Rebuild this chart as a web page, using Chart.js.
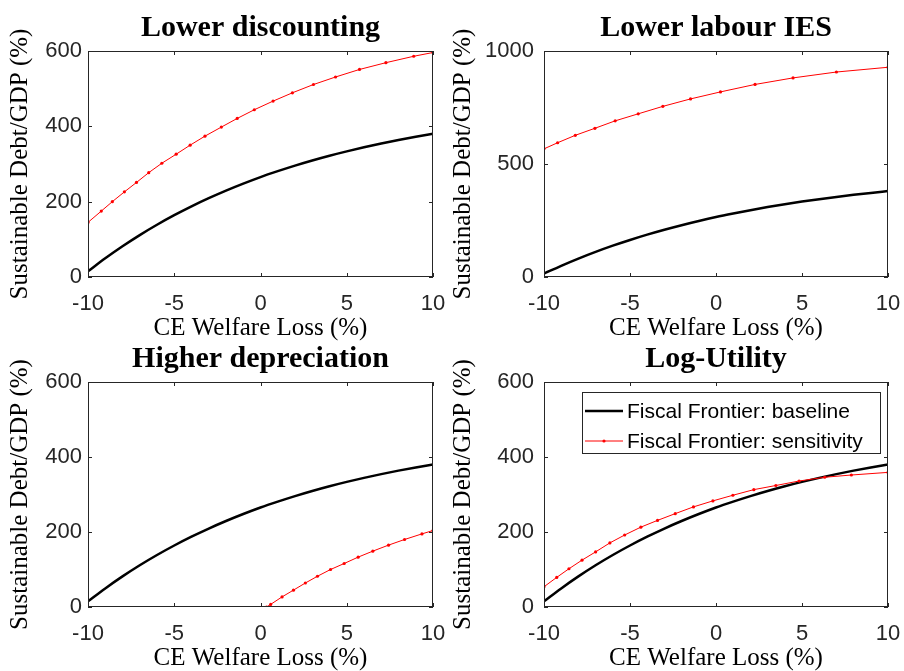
<!DOCTYPE html>
<html>
<head>
<meta charset="utf-8">
<script src="https://cdn.jsdelivr.net/npm/chart.js@4.4.1/dist/chart.umd.min.js"></script>
<style>
  html, body { margin: 0; padding: 0; background: #fff; }
  #wrap { position: relative; width: 904px; height: 671px; overflow: hidden; }
  canvas { position: absolute; }
</style>
</head>
<body>
<div id="wrap">
  <canvas id="c1" width="452" height="341" style="left:0;top:0"></canvas>
  <canvas id="c2" width="464" height="341" style="left:440px;top:0"></canvas>
  <canvas id="c3" width="452" height="341" style="left:0;top:330px"></canvas>
  <canvas id="c4" width="464" height="341" style="left:440px;top:330px"></canvas>
</div>
<script>
// x axis: CE welfare loss (%)
const welfare = [-10, -9, -8, -7, -6, -5, -4, -3, -2, -1, 0, 1, 2, 3, 4, 5, 6, 7, 8, 9, 10];
const baseline = [15, 49.6, 81.6, 111.3, 138.7, 164, 187.5, 209.2, 229.3, 247.9, 265.3, 281, 295.8, 309.4, 322, 333.6, 344.4, 354.4, 363.7, 372.2, 380.1];

// sensitivity runs (red, with markers)
const discountX = [-10, -9.23, -8.59, -7.89, -7.19, -6.48, -5.72, -4.89, -4.08, -3.22, -2.27, -1.35, -0.36, 0.73, 1.85, 3.07, 4.35, 5.74, 7.27, 8.88, 10];
const discountY = [145, 175, 200, 226, 251, 277, 302, 326, 350, 374, 398, 421, 444, 467, 489, 511, 531, 551, 569, 586, 596];

const iesX = [-10, -9.21, -8.18, -7.04, -5.86, -4.52, -3.09, -1.48, 0.26, 2.27, 4.48, 7.0, 10];
const iesY = [567, 594, 627, 658, 691, 722, 755, 788, 819, 852, 881, 907, 928];

const deprX = [0.35, 0.59, 1.25, 1.91, 2.60, 3.30, 4.06, 4.85, 5.66, 6.51, 7.42, 8.35, 9.36, 10];
const deprY = [0, 7, 27, 45, 64, 82, 100, 116, 133, 149, 165, 180, 195, 204];

const logX = [-10, -9.26, -8.55, -7.79, -7.0, -6.17, -5.31, -4.37, -3.40, -2.37, -1.31, -0.18, 0.98, 2.20, 3.48, 4.83, 6.32, 7.87, 10];
const logY = [54, 79, 102, 125, 147, 171, 192, 213, 231, 249, 267, 283, 298, 313, 324, 336, 346, 352, 359];

const xTicks = [-10, -5, 0, 5, 10];
const yTicks600 = [0, 200, 400, 600];
const yTicks1000 = [0, 500, 1000];

const seriesNames = ['Fiscal Frontier: baseline', 'Fiscal Frontier: sensitivity'];

const axisColor = '#262626';

// box round the axes, inward ticks, panel title and (optionally) legend
const frame = {
  id: 'frame',
  afterDatasetsDraw(chart, args, opts) {
    const {ctx, chartArea: a, scales} = chart;
    ctx.save();
    ctx.strokeStyle = axisColor;
    ctx.lineWidth = 1;
    ctx.strokeRect(a.left + 0.5, a.top + 0.5, a.right - a.left - 1, a.bottom - a.top - 1);
    ctx.beginPath();
    scales.x.ticks.forEach(t => {
      const px = Math.round(scales.x.getPixelForValue(t.value)) + 0.5;
      ctx.moveTo(px, a.bottom); ctx.lineTo(px, a.bottom - 4);
      ctx.moveTo(px, a.top); ctx.lineTo(px, a.top + 4);
    });
    scales.y.ticks.forEach(t => {
      const py = Math.round(scales.y.getPixelForValue(t.value)) + 0.5;
      ctx.moveTo(a.left, py); ctx.lineTo(a.left + 4, py);
      ctx.moveTo(a.right, py); ctx.lineTo(a.right - 4, py);
    });
    ctx.stroke();
    ctx.restore();
  },
  afterDraw(chart, args, opts) {
    const {ctx, chartArea: a} = chart;
    ctx.save();
    ctx.fillStyle = '#000';
    ctx.font = 'bold 30px "Liberation Serif"';
    ctx.textAlign = 'center';
    ctx.textBaseline = 'alphabetic';
    ctx.fillText(opts.title, (a.left + a.right) / 2, a.top - 15);

    if (opts.legend) {
      ctx.font = '21px "Liberation Sans"';
      const ds = chart.data.datasets;
      const w = Math.max(...ds.map(d => ctx.measureText(d.label).width));
      const boxW = Math.round(45 + w + 17), boxH = 61;
      const bx = Math.round(a.right - 8 - boxW), by = a.top + 10;
      ctx.fillStyle = '#fff';
      ctx.fillRect(bx, by, boxW, boxH);
      ctx.strokeStyle = axisColor;
      ctx.lineWidth = 1;
      ctx.strokeRect(bx + 0.5, by + 0.5, boxW, boxH);
      ds.forEach((d, i) => {
        const ry = by + 19 + i * 30;
        ctx.strokeStyle = d.borderColor;
        ctx.lineWidth = d.borderWidth;
        ctx.beginPath();
        ctx.moveTo(bx + 3, ry); ctx.lineTo(bx + 41, ry);
        ctx.stroke();
        if (d.pointRadius > 0) {
          ctx.fillStyle = d.borderColor;
          ctx.beginPath();
          ctx.arc(bx + 22, ry, d.pointRadius, 0, Math.PI * 2);
          ctx.fill();
        }
        ctx.fillStyle = '#000';
        ctx.textAlign = 'left';
        ctx.textBaseline = 'middle';
        ctx.fillText(d.label, bx + 45, ry + 1);
      });
    }
    ctx.restore();
  }
};

function makePanel(id, title, sensX, sensY, yMax, yTicks, p) {
  const ctx = document.getElementById(id).getContext('2d');
  return new Chart(ctx, {
    type: 'line',
    data: {
      datasets: [
        {
          label: seriesNames[0],
          data: welfare.map((x, i) => ({x: x, y: baseline[i]})),
          borderColor: '#000',
          borderWidth: 2.5,
          pointRadius: 0,
          cubicInterpolationMode: 'monotone',
          order: 1
        },
        {
          label: seriesNames[1],
          data: sensX.map((x, i) => ({x: x, y: sensY[i]})),
          borderColor: '#ff0000',
          backgroundColor: '#ff0000',
          borderWidth: 1,
          pointRadius: 1.6,
          pointBorderWidth: 0,
          pointBackgroundColor: '#ff0000',
          tension: 0,
          order: 0
        }
      ]
    },
    options: {
      responsive: false,
      animation: false,
      events: [],
      layout: { padding: { top: p.top, right: p.right, bottom: 0, left: 0 } },
      scales: {
        x: {
          type: 'linear',
          min: -10, max: 10,
          afterBuildTicks: s => { s.ticks = xTicks.map(v => ({value: v})); },
          afterFit: s => { s.height = 64; s.paddingLeft = 0; s.paddingRight = 0; },
          grid: { display: false, drawTicks: false },
          border: { display: false },
          ticks: { color: axisColor, padding: 14, font: { family: 'Liberation Sans', size: 22 },
                   callback: v => String(v) },
          title: {
            display: true, text: 'CE Welfare Loss (%)', color: '#000',
            padding: { top: 0, bottom: 0 },
            font: { family: 'Liberation Serif', size: 25, lineHeight: 1 }
          }
        },
        y: {
          min: 0, max: yMax,
          afterBuildTicks: s => { s.ticks = yTicks.map(v => ({value: v})); },
          afterFit: s => { s.width = p.yWidth; s.paddingTop = 0; s.paddingBottom = 0; },
          grid: { display: false, drawTicks: false },
          border: { display: false },
          ticks: { color: axisColor, padding: p.tickPad, font: { family: 'Liberation Sans', size: 22 },
                   callback: v => String(v) },
          title: {
            display: true, text: 'Sustainable Debt/GDP (%)', color: '#000',
            padding: { top: p.titlePad, bottom: 0 },
            font: { family: 'Liberation Serif', size: 25, lineHeight: 1 }
          }
        }
      },
      plugins: {
        legend: { display: false },
        tooltip: { enabled: false },
        frame: { title: title, legend: !!p.legend }
      }
    },
    plugins: [frame]
  });
}

makePanel('c1', 'Lower discounting', discountX, discountY, 600, yTicks600,
  { top: 51, right: 19, yWidth: 88, tickPad: 6, titlePad: 8 });
makePanel('c2', 'Lower labour IES', iesX, iesY, 1000, yTicks1000,
  { top: 51, right: 16, yWidth: 104, tickPad: 10, titlePad: 11 });
makePanel('c3', 'Higher depreciation', deprX, deprY, 600, yTicks600,
  { top: 52, right: 19, yWidth: 88, tickPad: 6, titlePad: 8 });
makePanel('c4', 'Log-Utility', logX, logY, 600, yTicks600,
  { top: 52, right: 16, yWidth: 104, tickPad: 10, titlePad: 11, legend: true });
</script>
</body>
</html>
